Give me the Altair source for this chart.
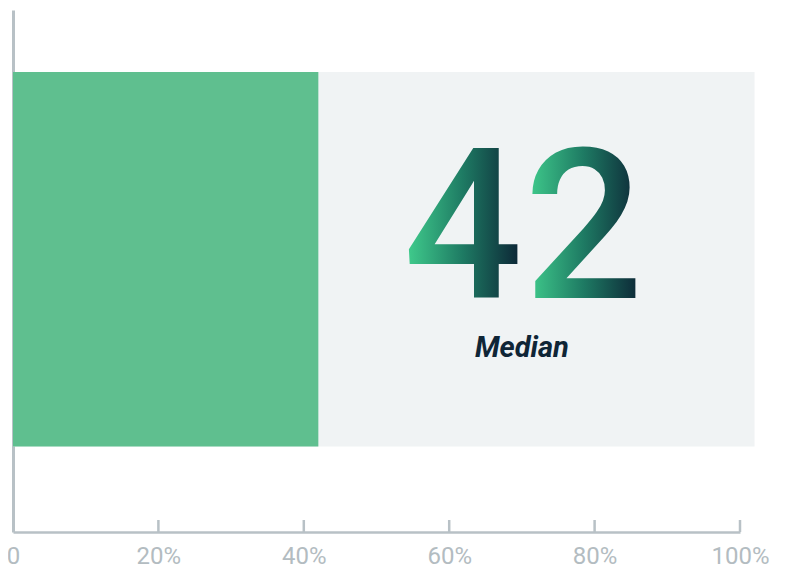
import altair as alt
import pandas as pd

# ---- data ----
median_value = 42            # percent
track_end = 102              # grey track extends slightly beyond 100%
band_bottom, band_top = 0.164, 0.881
tick_values = [0, 20, 40, 60, 80, 100]
label_text = "Median"

# annotation anchors (data space)
digit_x = [61.9, 78.5]
digit_y = 0.448
label_x = 70.0
label_y = 0.335

bars = pd.DataFrame({
    "start": [0, 0],
    "end": [track_end, median_value],
    "lo": [band_bottom, band_bottom],
    "hi": [band_top, band_top],
    "kind": ["track", "value"],
})
digits = pd.DataFrame({
    "d": list(str(median_value)),
    "x": digit_x,
    "y": [digit_y] * len(digit_x),
})
lab = pd.DataFrame({"t": [label_text], "x": [label_x], "y": [label_y]})
ticks = pd.DataFrame({"v": [v for v in tick_values if v > 0]})

AX = "#b8c1c6"
xscale = alt.Scale(domain=[0, 100], nice=False, zero=True)
yscale = alt.Scale(domain=[0, 1], nice=False)

x_axis = alt.Axis(values=tick_values, ticks=False, grid=False, title=None,
                  domainColor=AX, domainWidth=2.5, labelColor="#b3bcc1",
                  labelFont="Roboto", labelFontSize=24, labelFontWeight=400,
                  labelPadding=12,
                  labelExpr="datum.value == 0 ? '0' : datum.value + '%'",
                  labelFlush=False, labelOverlap=False)
y_axis = alt.Axis(ticks=False, labels=False, grid=False, title=None,
                  domainColor=AX, domainWidth=3)

track = alt.Chart(bars).transform_filter("datum.kind == 'track'").mark_rect(
    color="#f0f3f4", clip=False
).encode(
    x=alt.X("start:Q", scale=xscale, axis=x_axis),
    x2="end:Q",
    y=alt.Y("lo:Q", scale=yscale, axis=y_axis),
    y2="hi:Q",
)
value = alt.Chart(bars).transform_filter("datum.kind == 'value'").mark_rect(
    color="#5fbf8f"
).encode(x=alt.X("start:Q", scale=xscale), x2="end:Q",
         y=alt.Y("lo:Q", scale=yscale), y2="hi:Q")

tick_rules = alt.Chart(ticks).mark_rule(color=AX, strokeWidth=2.5).encode(
    x=alt.X("v:Q", scale=xscale),
    y=alt.value(510), y2=alt.value(522),
)

grad = alt.Gradient(
    gradient="linear",
    stops=[alt.GradientStop(color="#42d18f", offset=0),
           alt.GradientStop(color="#1e7a63", offset=0.5),
           alt.GradientStop(color="#0b2133", offset=1)],
    x1=0, x2=1, y1=0, y2=0,
)
digit_marks = alt.Chart(digits).mark_text(
    font="Roboto", fontSize=210, fontWeight=500, align="center",
    baseline="alphabetic", fill=grad
).encode(x=alt.X("x:Q", scale=xscale), y=alt.Y("y:Q", scale=yscale), text="d:N")

label_mark = alt.Chart(lab).mark_text(
    font="Roboto", fontSize=29, fontWeight="bold", fontStyle="italic",
    color="#0f2536", align="center", baseline="alphabetic"
).encode(x=alt.X("x:Q", scale=xscale), y=alt.Y("y:Q", scale=yscale), text="t:N")

chart = alt.layer(track, value, tick_rules, digit_marks, label_mark).properties(
    width=727, height=522,
    padding={"left": 5, "top": 2, "right": 40, "bottom": 38},
    autosize=alt.AutoSizeParams(type="none"),
    background="white",
).configure_view(stroke=None)

chart.save("out.html", embed_options={"renderer": "svg", "actions": False})
